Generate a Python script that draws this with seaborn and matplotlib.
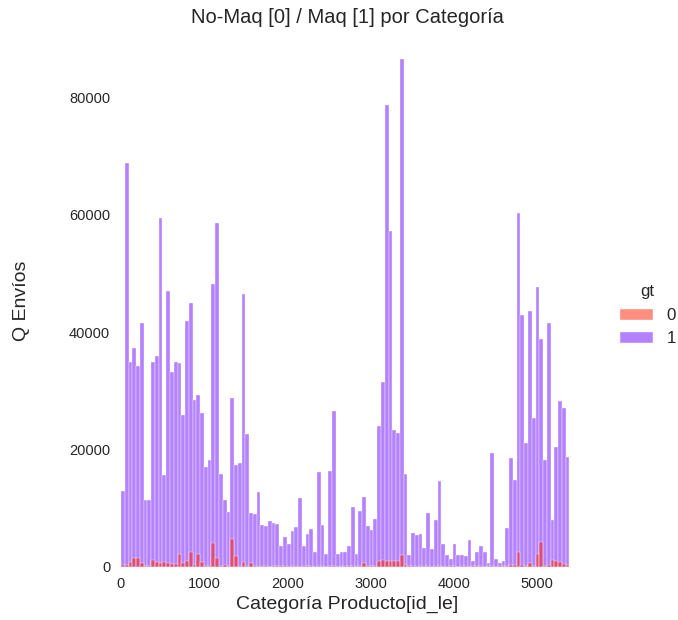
import numpy as np
import pandas as pd
import seaborn as sns
import matplotlib.pyplot as plt

# ---- data (values in units of Q envíos) ----
BIN_LO, BIN_HI, N_BINS = 0, 5390, 119

q_maq = [  # gt = 1, one value per bin (thousands)
    12.9, 68.9, 35.0, 37.3, 34.2, 41.6, 11.5, 11.5, 35.0, 35.9,
    59.5, 15.7, 47.1, 33.3, 35.0, 34.8, 25.9, 41.9, 45.0, 28.5,
    29.3, 26.2, 17.1, 18.3, 48.3, 58.6, 15.9, 11.4, 9.4, 28.8,
    17.4, 17.7, 46.6, 22.7, 9.2, 9.0, 12.7, 7.2, 7.0, 7.9,
    7.5, 7.3, 3.5, 5.1, 3.9, 6.2, 6.9, 11.7, 3.6, 5.6,
    6.4, 2.6, 16.2, 7.1, 2.3, 16.4, 26.5, 2.3, 2.6, 2.6,
    3.5, 10.3, 2.3, 9.6, 12.0, 7.0, 6.3, 8.2, 24.0, 31.5,
    78.8, 57.2, 23.3, 22.8, 86.5, 15.8, 2.0, 5.8, 5.4, 5.6,
    3.2, 9.2, 3.0, 8.0, 14.6, 4.0, 2.0, 1.4, 4.0, 2.0,
    2.0, 1.8, 4.6, 1.1, 2.6, 3.6, 2.6, 0.7, 19.4, 1.4,
    0.7, 1.1, 6.7, 18.5, 14.8, 60.4, 43.0, 21.2, 43.6, 25.4,
    47.7, 38.9, 18.3, 41.6, 8.0, 20.4, 28.3, 27.1, 18.8,
]

q_nomaq = [  # gt = 0, one value per bin (thousands)
    0.3, 0.3, 0.9, 1.5, 1.5, 0.6, 0.1, 0.1, 1.2, 0.8,
    0.6, 0.9, 0.6, 0.5, 0.5, 2.3, 0.6, 1.0, 2.6, 0.3,
    2.3, 0.9, 0.2, 0.2, 4.1, 1.5, 0.2, 0.4, 0.1, 4.7,
    1.9, 0.1, 0.9, 0.1, 0.6, 0.15, 0.0, 0.15, 0.15, 0.0,
    0.15, 0.15, 0.15, 0.15, 0.0, 0.15, 0.15, 0.0, 0.15, 0.15,
    0.15, 0.0, 0.15, 0.15, 0.0, 0.15, 0.15, 0.0, 0.15, 0.15,
    0.15, 0.15, 0.0, 0.2, 0.6, 0.1, 0.1, 0.2, 1.1, 1.2,
    1.0, 1.1, 1.0, 1.0, 2.0, 0.3, 0.15, 0.15, 0.0, 0.15,
    0.15, 0.15, 0.0, 0.15, 0.15, 0.15, 0.0, 0.15, 0.15, 0.0,
    0.15, 0.15, 0.0, 0.15, 0.15, 0.15, 0.0, 0.15, 0.15, 0.0,
    0.15, 0.15, 0.15, 0.4, 0.3, 2.6, 0.3, 0.1, 0.7, 0.2,
    2.2, 4.2, 0.1, 0.4, 1.2, 1.0, 0.8, 0.5, 0.4,
]

gt_levels = [0, 1]
palette = {0: "#ff1f00", 1: "#6a05ff"}

# ---- build long table: one row per bin and group, placed at bin centre ----
width = (BIN_HI - BIN_LO) / N_BINS
id_le = BIN_LO + width * (np.arange(N_BINS) + 0.5)
df = pd.concat([
    pd.DataFrame({"id_le": id_le, "Q": np.array(q_nomaq) * 1000, "gt": 0}),
    pd.DataFrame({"id_le": id_le, "Q": np.array(q_maq) * 1000, "gt": 1}),
], ignore_index=True)

sns.set_theme(style="white")
plt.rcParams["font.family"] = ["Liberation Sans", "DejaVu Sans"]

W, H = 678, 620
fig = plt.figure(figsize=(W / 100, H / 100), dpi=100)
ax = fig.add_axes([115 / W, 53 / H, 465 / W, 533 / H])

sns.histplot(data=df, x="id_le", weights="Q", hue="gt", hue_order=gt_levels,
             bins=N_BINS, binrange=(BIN_LO, BIN_HI), palette=palette, ax=ax)

ax.set_xlim(-72, 5517)
sns.despine(ax=ax, left=True, bottom=True)
ax.tick_params(axis="both", labelsize=10.5, colors="#262626", length=0)
ax.tick_params(axis="y", pad=3.5)
ax.tick_params(axis="x", pad=7)
ax.set_xlabel("Categoría Producto[id_le]", fontsize=14)
ax.set_ylabel("Q Envíos", fontsize=14)
ax.yaxis.set_label_coords(-0.183, 0.5)
ax.set_title("No-Maq [0] / Maq [1] por Categoría", fontsize=14.5, pad=8)

sns.move_legend(ax, loc="center left", bbox_to_anchor=(604 / W, 1 - 315 / H),
                bbox_transform=fig.transFigure, frameon=False, title="gt",
                fontsize=12.2, title_fontsize=12.2)

fig.savefig("out.png", dpi=100)
